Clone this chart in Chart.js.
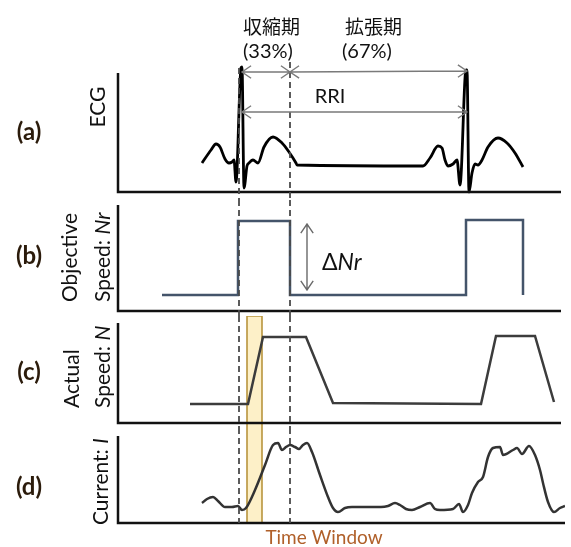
<!DOCTYPE html>
<html><head><meta charset="utf-8">
<script src="https://cdn.jsdelivr.net/npm/chart.js@4/dist/chart.umd.min.js"></script>
<style>
html,body{margin:0;padding:0;background:#fff;}
body{width:571px;height:547px;position:relative;overflow:hidden;}
canvas{position:absolute;left:0;display:block;}
</style></head>
<body>
<canvas id="pa" width="571" height="200" style="top:0"></canvas>
<canvas id="pb" width="571" height="116" style="top:200px"></canvas>
<canvas id="pc" width="571" height="112" style="top:316px"></canvas>
<canvas id="pd" width="571" height="119" style="top:428px"></canvas>
<script>
// ---------- DATA (time axis in arbitrary units, 0..447) ----------
const timeMax = 447;
// (a) ECG
const ecgT = [84,93,98,102,107,111,114,116,118,123,124,126,129,131,135,140,146,155,164,171,178,179,305,312,320,324,327,330,335,339,342,348,349,351,354,357,360,364,370,380,389,397,405];
const ecgV = [29,42,48,45,33,29,30,32,10,124,125,4,26,29,32,29,45,55,49,40,29,27,26,34,46,44,32,26,28,32,7,122,122,0,19,28,27,32,45,54,49,39,25];
// (b) Objective speed Nr
const targetT = [44,120,120,172,172,348,348,405,405];
const targetV = [16,16,90,90,16,16,91,91,16];
// (c) Actual speed N
const speedT = [72,130,145,188,215,363,378,417,436];
const speedV = [19,19,86,86,20,19,87,87,21];
// (d) Current I
const currentT = [84,89,95,100,107,114,120,124,128,137,147,155,160,164,168,172,177,181,185,189,194,202,210,215,220,227,234,252,263,270,277,282,288,294,302,312,317,322,335,341,345,350,354,360,365,370,375,382,385,395,399,404,411,417,422,425,430,436,442,447];
const currentV = [20,24,26,22,16,16,17,13,15,33,58,78,80,73,76,78,76,74,78,80,71,48,26,15,11,15,16,16,16,17,20,18,14,13,16,20,14,13,14,19,11,18,30,41,46,66,75,76,68,73,75,69,77,68,53,40,21,11,15,17];
// markers
const markerT = [121, 172];          // R-peak / end of systole (dashed lines)
const rPeakT = [124, 349];           // R peaks (RRI arrow ends)
const windowT = [129, 144];          // highlighted time window
const phaseLabels = ['収縮期', '拡張期'];
const phasePct = ['(33%)', '(67%)'];
const panelLetters = ['(a)', '(b)', '(c)', '(d)'];

// ---------- helpers ----------
const LAT = 'Lato, "Open Sans", sans-serif';
const CJK = '"Noto Sans CJK JP", "Noto Sans CJK SC", sans-serif';
function pts(t, v){ return t.map((x,i)=>({x:x, y:v[i]})); }
function X(c,v){ return c.scales.x.getPixelForValue(v); }
function Y(c,v){ return c.scales.y.getPixelForValue(v); }
function head(ctx,x,y,ang){
  const L=11, a=0.6;
  ctx.moveTo(x - L*Math.cos(ang-a), y - L*Math.sin(ang-a));
  ctx.lineTo(x,y);
  ctx.lineTo(x - L*Math.cos(ang+a), y - L*Math.sin(ang+a));
}
function dblArrow(ctx,x1,y1,x2,y2,col){
  const ang=Math.atan2(y2-y1,x2-x1);
  ctx.save(); ctx.strokeStyle=col; ctx.lineWidth=1.4; ctx.beginPath();
  ctx.moveTo(x1,y1); ctx.lineTo(x2,y2);
  head(ctx,x2,y2,ang); head(ctx,x1,y1,ang+Math.PI);
  ctx.stroke(); ctx.restore();
}
function axes(c, yTop, xEnd){
  const ctx=c.ctx; ctx.save(); ctx.strokeStyle='#111'; ctx.lineWidth=2.5;
  ctx.beginPath(); ctx.moveTo(X(c,0),Y(c,yTop)); ctx.lineTo(X(c,0),Y(c,0)); ctx.lineTo(X(c,xEnd),Y(c,0)); ctx.stroke(); ctx.restore();
}
function dashes(c, y0, y1, tops){
  const ctx=c.ctx; ctx.save(); ctx.strokeStyle='#4a4a4a'; ctx.lineWidth=1.8; ctx.setLineDash([6,4]);
  markerT.forEach((t,i)=>{ ctx.beginPath(); ctx.moveTo(X(c,t), tops? tops[i] : y0); ctx.lineTo(X(c,t), y1); ctx.stroke(); });
  ctx.restore();
}
function letter(c, s, y){
  const ctx=c.ctx; ctx.save(); ctx.fillStyle='#2b1b0b'; ctx.font='bold 24px '+LAT;
  ctx.textAlign='center'; ctx.textBaseline='middle'; ctx.fillText(s,29,y); ctx.restore();
}
// rotated label; parts = [[text, italic], ...]
function vlabel(c, parts, x, yStart, center){
  const ctx=c.ctx; ctx.save(); ctx.fillStyle='#111'; ctx.textBaseline='middle';
  let w=0; parts.forEach(p=>{ ctx.font=(p[1]?'italic ':'')+'21px '+LAT; w+=ctx.measureText(p[0]).width; });
  ctx.translate(x, center? yStart + w/2 : yStart); ctx.rotate(-Math.PI/2);
  let cx=0; parts.forEach(p=>{ ctx.font=(p[1]?'italic ':'')+'21px '+LAT; ctx.textAlign='left'; ctx.fillText(p[0],cx,0); cx+=ctx.measureText(p[0]).width; });
  ctx.restore();
}
function winBox(c, y0, y1, topEdge){
  const ctx=c.ctx, xa=X(c,windowT[0]), xb=X(c,windowT[1]);
  ctx.save(); ctx.fillStyle='#fdf0c8'; ctx.fillRect(xa,y0,xb-xa,y1-y0);
  ctx.strokeStyle='#b8953e'; ctx.lineWidth=1.6; ctx.beginPath();
  if(topEdge){ ctx.moveTo(xa,y1); ctx.lineTo(xa,y0); ctx.lineTo(xb,y0); ctx.lineTo(xb,y1); }
  else { ctx.moveTo(xa,y0); ctx.lineTo(xa,y1); ctx.moveTo(xb,y0); ctx.lineTo(xb,y1); }
  ctx.stroke(); ctx.restore();
}
function make(id, datasets, yMax, padTop, padBottom, before, after){
  return new Chart(document.getElementById(id), {
    type:'line',
    data:{datasets:datasets},
    options:{
      responsive:false, animation:false, devicePixelRatio:1,
      layout:{padding:{left:118,right:6,top:padTop,bottom:padBottom}},
      scales:{x:{type:'linear',min:0,max:timeMax,display:false},y:{min:0,max:yMax,display:false}},
      plugins:{legend:{display:false},tooltip:{enabled:false}},
      elements:{point:{radius:0}}
    },
    plugins:[{id:'deco'+id, beforeDatasetsDraw:before||(()=>{}), afterDatasetsDraw:after||(()=>{})}]
  });
}

// (a) ECG
make('pa', [{data:pts(ecgT,ecgV), borderColor:'#000', borderWidth:2.8, cubicInterpolationMode:'monotone', clip:false}], 130, 62, 8, null, c=>{
  const ctx=c.ctx;
  axes(c,119,443);
  dashes(c,0,c.height,[Y(c,124),Y(c,130)]);
  const yU=Y(c,120), yL=Y(c,80);
  dblArrow(ctx,X(c,rPeakT[0]),yU,X(c,markerT[1]),yU,'#7a7a7a');
  dblArrow(ctx,X(c,markerT[1]),yU,X(c,rPeakT[1]),yU-1,'#7a7a7a');
  dblArrow(ctx,X(c,rPeakT[0]),yL,X(c,rPeakT[1]),yL,'#7a7a7a');
  ctx.save(); ctx.fillStyle='#111'; ctx.textBaseline='middle'; ctx.textAlign='left';
  ctx.font='19px '+CJK; ctx.fillText(phaseLabels[0],X(c,125),27); ctx.fillText(phaseLabels[1],X(c,227),27);
  ctx.font='20px '+LAT; ctx.fillText(phasePct[0],X(c,125),52); ctx.fillText(phasePct[1],X(c,224),52);
  ctx.textAlign='center'; ctx.font='20px '+LAT; ctx.fillText('RRI',X(c,212),Y(c,95));
  ctx.restore();
  letter(c,panelLetters[0],132);
  vlabel(c,[['ECG',false]],98,107,true);
});

// (b) Objective speed
make('pb', [{data:pts(targetT,targetV), borderColor:'#44546a', borderWidth:2.5, tension:0}], 106, 5, 5, null, c=>{
  const ctx=c.ctx;
  axes(c,106,443);
  dashes(c,0,c.height);
  dblArrow(ctx,X(c,189),Y(c,87),X(c,189),Y(c,21),'#6a6a6a');
  ctx.save(); ctx.fillStyle='#111'; ctx.textBaseline='middle'; ctx.textAlign='left';
  ctx.font='23px '+LAT; const xs=X(c,204), ys=Y(c,48);
  ctx.fillText('Δ',xs,ys); const w=ctx.measureText('Δ').width;
  ctx.font='italic 23px '+LAT; ctx.fillText('Nr',xs+w,ys); ctx.restore();
  letter(c,panelLetters[1],56);
  vlabel(c,[['Objective',false]],70,102);
  vlabel(c,[['Speed: ',false],['Nr',true]],103,102);
});

// (c) Actual speed
make('pc', [{data:pts(speedT,speedV), borderColor:'#3c3c3c', borderWidth:2.5, tension:0}], 100, 7, 5, c=>{
  winBox(c,0,c.height,true);
}, c=>{
  axes(c,100,443);
  dashes(c,0,c.height);
  letter(c,panelLetters[2],56);
  vlabel(c,[['Actual',false]],72,92);
  vlabel(c,[['Speed: ',false],['N',true]],103,92);
});

// (d) Current
make('pd', [{data:pts(currentT,currentV), borderColor:'#333', borderWidth:2.5, cubicInterpolationMode:'monotone'}], 87, 8, 24, c=>{
  winBox(c,0,Y(c,0),false);
}, c=>{
  const ctx=c.ctx;
  axes(c,87,447);
  dashes(c,0,Y(c,0));
  letter(c,panelLetters[3],59);
  vlabel(c,[['Current: ',false],['I',true]],101,97);
  ctx.save(); ctx.fillStyle='#b0602a'; ctx.font='19px '+LAT; ctx.textAlign='center'; ctx.textBaseline='middle';
  ctx.fillText('Time Window',324,110); ctx.restore();
});
</script>
</body></html>
